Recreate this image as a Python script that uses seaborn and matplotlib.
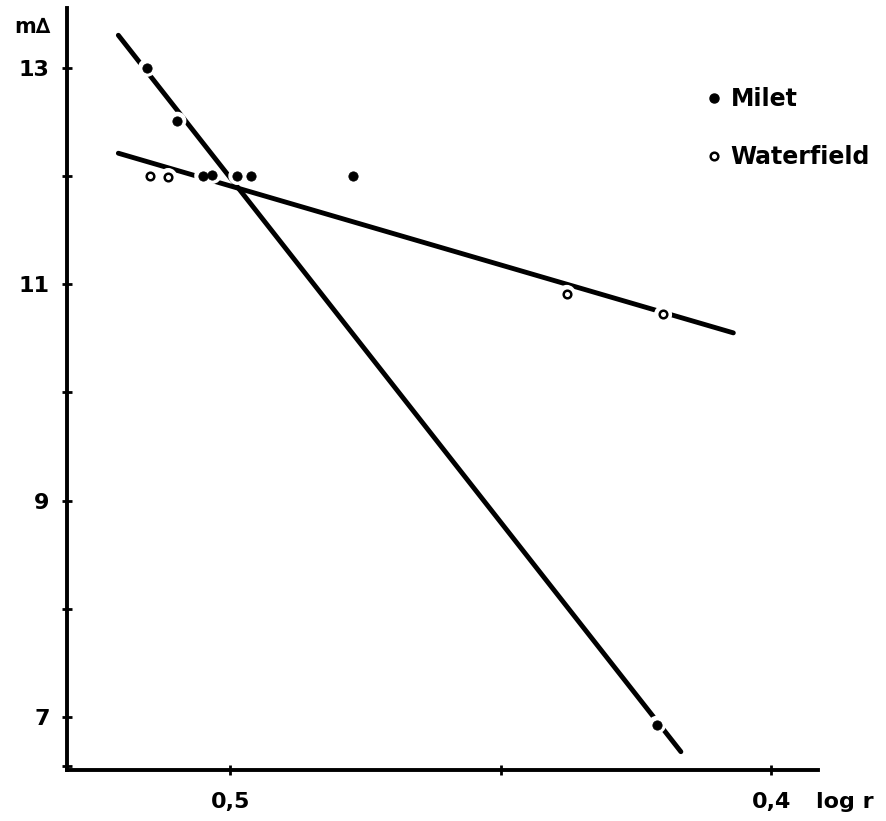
import matplotlib
matplotlib.use('Agg')
import matplotlib.pyplot as plt
import seaborn as sns
import pandas as pd
from matplotlib.lines import Line2D

# point data (log r, m delta)
milet_x = [0.5154, 0.5098, 0.5050, 0.5033, 0.4987, 0.4961, 0.4774, 0.4211]
milet_y = [13.0, 12.51, 12.0, 12.01, 12.0, 12.0, 12.0, 6.93]
water_x = [0.5148, 0.5115, 0.4378, 0.4200]
water_y = [12.0, 11.99, 10.91, 10.72]

# hand drawn fit lines (end points)
milet_line_x = [0.5207, 0.4167]
milet_line_y = [13.30, 6.68]
water_line_x = [0.5207, 0.4070]
water_line_y = [12.21, 10.55]

milet = pd.DataFrame({'log r': milet_x, 'm': milet_y})
water = pd.DataFrame({'log r': water_x, 'm': water_y})

sns.set_style('white')
plt.rcParams['font.family'] = ['DejaVu Sans']
plt.rcParams['text.color'] = 'black'
plt.rcParams['xtick.color'] = 'black'
plt.rcParams['ytick.color'] = 'black'

fig = plt.figure(figsize=(8.87, 8.21), dpi=100)
ax = fig.add_axes([0.0755, 0.062, 0.847, 0.928])

sns.lineplot(x=milet_line_x, y=milet_line_y, sort=False, color='black', lw=3.5, ax=ax, zorder=2)
sns.lineplot(x=water_line_x, y=water_line_y, sort=False, color='black', lw=3.5, ax=ax, zorder=2)

# white halos to break the lines around the points
for df in (milet, water):
    sns.scatterplot(data=df, x='log r', y='m', s=170, color='white', edgecolor='none', ax=ax, zorder=3)
sns.scatterplot(data=milet, x='log r', y='m', s=45, color='black', edgecolor='black', ax=ax, zorder=4)
sns.scatterplot(data=water, x='log r', y='m', s=30, facecolor='white', edgecolor='black',
                linewidth=1.8, ax=ax, zorder=4)

ax.set_xlim(0.5302, 0.3913)
ax.set_ylim(6.51, 13.55)

ax.set_xticks([0.5, 0.45, 0.4])
ax.set_xticklabels(['0,5', '', '0,4'])
ax.set_yticks([13, 11, 9, 7])
ax.set_yticklabels(['13', '11', '9', '7'])
ax.set_yticks([12, 10, 8, 6.55], minor=True)
ax.tick_params(axis='both', which='both', direction='inout', length=7, width=2, color='black',
               labelsize=16, bottom=True, left=True)
ax.tick_params(axis='y', pad=9)
ax.tick_params(axis='x', pad=12)
for lab in ax.get_xticklabels() + ax.get_yticklabels():
    lab.set_fontweight('bold')

sns.despine(ax=ax)
for side in ('left', 'bottom'):
    ax.spines[side].set_linewidth(2.8)
    ax.spines[side].set_color('black')
ax.set_xlabel('')
ax.set_ylabel('')

ax.text(-0.022, 0.975, 'm∆', transform=ax.transAxes, ha='right', va='center',
        fontsize=15, fontweight='bold')
ax.text(0.997, -0.042, 'log r', transform=ax.transAxes, ha='left', va='center',
        fontsize=16, fontweight='bold')

handles = [
    Line2D([], [], marker='o', color='black', ls='none', markersize=6.5, label='Milet'),
    Line2D([], [], marker='o', markerfacecolor='white', markeredgecolor='black',
           markeredgewidth=1.8, ls='none', markersize=5.5, label='Waterfield'),
]
fig.legend(handles=handles, loc='upper left', bbox_to_anchor=(0.773, 0.92), frameon=False,
           handlelength=0.6, handletextpad=0.4, labelspacing=1.45,
           prop={'size': 17, 'weight': 'bold'})

fig.savefig('out.png', dpi=100)
